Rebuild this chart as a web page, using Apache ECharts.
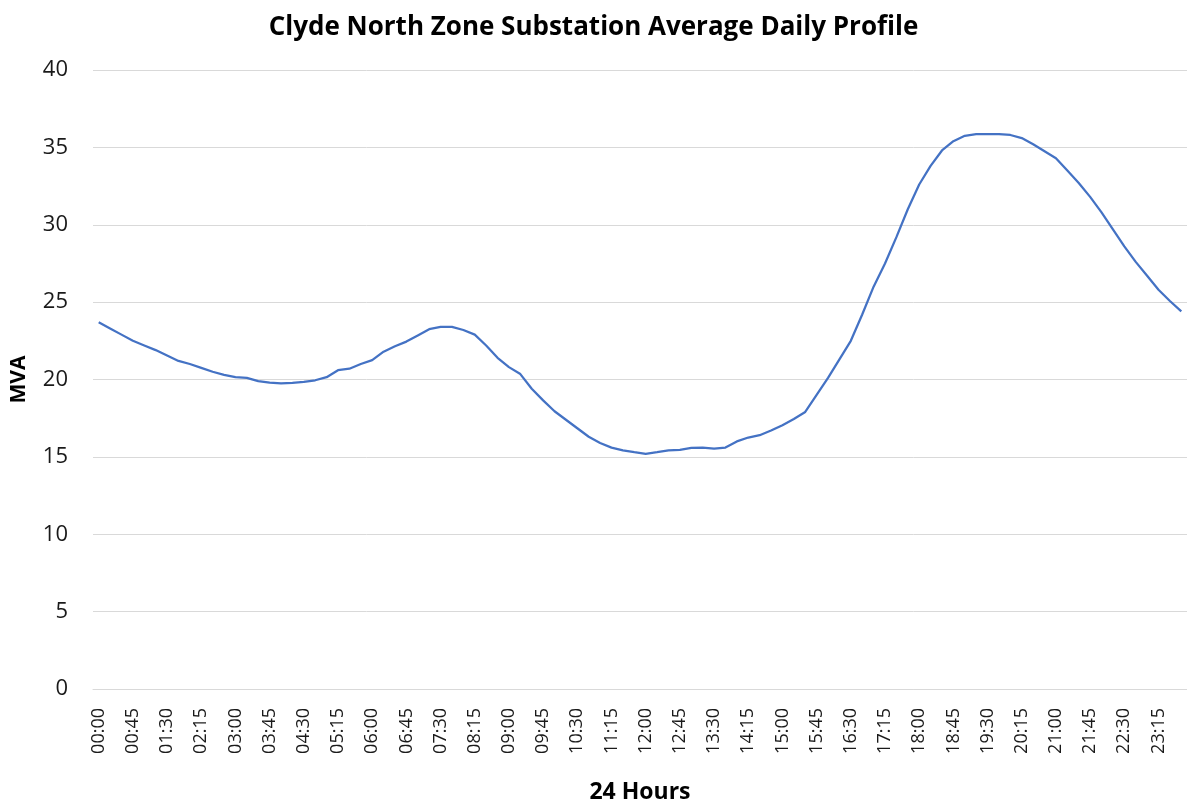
<!DOCTYPE html>
<html>
<head>
<meta charset="utf-8">
<title>Clyde North Zone Substation Average Daily Profile</title>
<script src="https://cdn.jsdelivr.net/npm/echarts@6/dist/echarts.min.js"></script>
<style>
  html, body { margin: 0; padding: 0; background: #fff; }
  #chart { width: 1187px; height: 809px; }
</style>
</head>
<body>
<div id="chart"></div>
<script>
// 15 minute intervals over the day
var times = [
  "00:00","00:15","00:30","00:45","01:00","01:15","01:30","01:45",
  "02:00","02:15","02:30","02:45","03:00","03:15","03:30","03:45",
  "04:00","04:15","04:30","04:45","05:00","05:15","05:30","05:45",
  "06:00","06:15","06:30","06:45","07:00","07:15","07:30","07:45",
  "08:00","08:15","08:30","08:45","09:00","09:15","09:30","09:45",
  "10:00","10:15","10:30","10:45","11:00","11:15","11:30","11:45",
  "12:00","12:15","12:30","12:45","13:00","13:15","13:30","13:45",
  "14:00","14:15","14:30","14:45","15:00","15:15","15:30","15:45",
  "16:00","16:15","16:30","16:45","17:00","17:15","17:30","17:45",
  "18:00","18:15","18:30","18:45","19:00","19:15","19:30","19:45",
  "20:00","20:15","20:30","20:45","21:00","21:15","21:30","21:45",
  "22:00","22:15","22:30","22:45","23:00","23:15","23:30","23:45"
];

// average MVA
var mva = [
  23.7, 23.3, 22.9, 22.5, 22.2, 21.9, 21.55, 21.2,
  21.0, 20.75, 20.5, 20.3, 20.15, 20.1, 19.9, 19.8,
  19.75, 19.78, 19.84, 19.95, 20.15, 20.6, 20.7, 21.0,
  21.25, 21.8, 22.15, 22.45, 22.85, 23.25, 23.4, 23.4,
  23.2, 22.9, 22.2, 21.4, 20.8, 20.35, 19.4, 18.65,
  17.95, 17.4, 16.85, 16.3, 15.9, 15.6, 15.42, 15.3,
  15.2, 15.3, 15.42, 15.45, 15.58, 15.6, 15.53, 15.6,
  16.0, 16.25, 16.4, 16.7, 17.05, 17.45, 17.9, 19.0,
  20.1, 21.3, 22.5, 24.2, 26.0, 27.5, 29.2, 31.0,
  32.6, 33.8, 34.8, 35.4, 35.75, 35.85, 35.85, 35.85,
  35.8, 35.6, 35.2, 34.75, 34.3, 33.5, 32.7, 31.8,
  30.8, 29.7, 28.6, 27.6, 26.7, 25.8, 25.07, 24.4
];

var font = "'Open Sans', 'Noto Sans', sans-serif";

var myChart = echarts.init(document.getElementById('chart'));
var option = {
  animation: false,
  backgroundColor: '#ffffff',
  title: {
    text: 'Clyde North Zone Substation Average Daily Profile',
    left: 'center',
    top: 10,
    textStyle: { fontFamily: font, fontWeight: 'bold', fontSize: 26, color: '#000' }
  },
  grid: { left: 93, right: 0, top: 70, bottom: 114 },
  xAxis: {
    type: 'category',
    data: times,
    boundaryGap: true,
    name: '24 Hours',
    nameLocation: 'middle',
    nameGap: 92,
    nameTextStyle: { fontFamily: font, fontWeight: 'bold', fontSize: 23, color: '#000' },
    axisLine: { show: true, lineStyle: { color: '#d9d9d9', width: 1 } },
    axisTick: { show: false },
    axisLabel: {
      interval: 2,
      rotate: 90,
      margin: 19,
      fontFamily: font,
      fontSize: 18,
      color: '#1a1a1a'
    }
  },
  yAxis: {
    type: 'value',
    min: 0,
    max: 40,
    interval: 5,
    name: 'MVA',
    nameLocation: 'middle',
    nameGap: 63,
    nameTextStyle: { fontFamily: font, fontWeight: 'bold', fontSize: 21, color: '#000' },
    axisLine: { show: false },
    axisTick: { show: false },
    axisLabel: { margin: 25, fontFamily: font, fontSize: 22, color: '#1a1a1a' },
    splitLine: { lineStyle: { color: '#d9d9d9', width: 1 } }
  },
  series: [{
    type: 'line',
    data: mva,
    showSymbol: false,
    smooth: false,
    lineStyle: { color: '#4472C4', width: 2.25 }
  }]
};
myChart.setOption(option);
</script>
</body>
</html>
